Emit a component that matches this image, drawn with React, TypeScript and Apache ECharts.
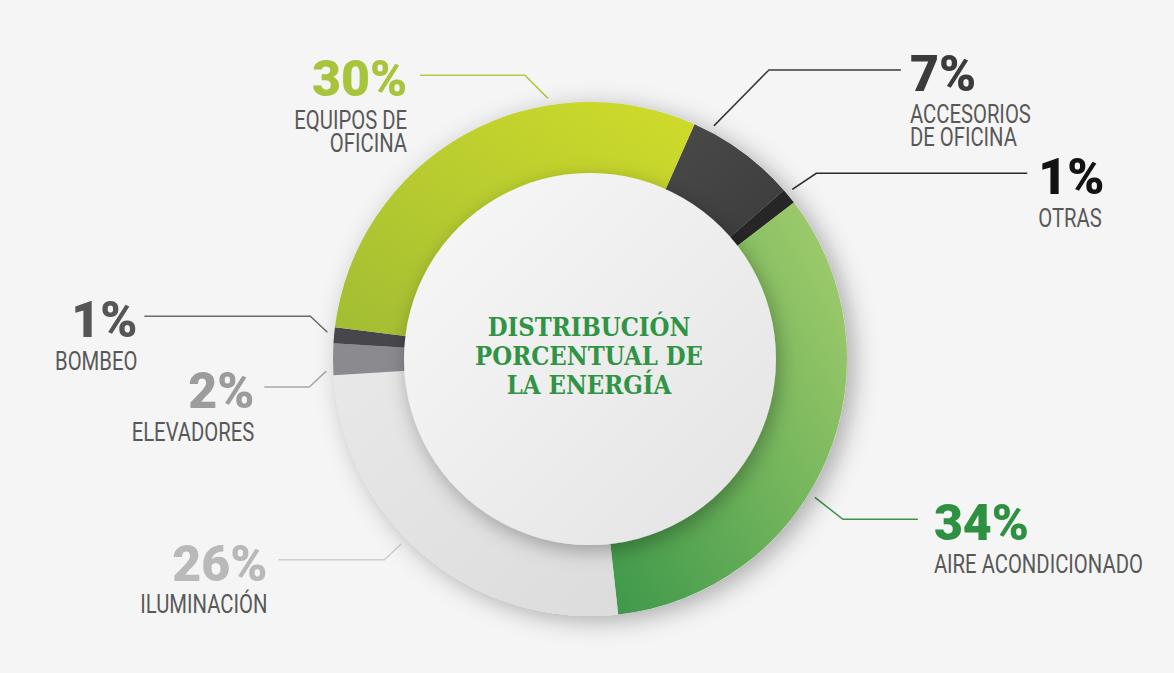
import React, { useEffect, useRef } from "react";
import * as echarts from "echarts";

// ---- data ----
const categories = [
  "ACCESORIOS\nDE OFICINA",
  "OTRAS",
  "AIRE ACONDICIONADO",
  "ILUMINACIÓN",
  "ELEVADORES",
  "BOMBEO",
  "EQUIPOS DE\nOFICINA",
];
const values = [7, 1, 34, 26, 2, 1, 30];
const percentLabels = ["7%", "1%", "34%", "26%", "2%", "1%", "30%"];
const centerTitle = "DISTRIBUCIÓN\nPORCENTUAL DE\nLA ENERGÍA";

// ---- layout / style ----
const CX = 590;
const CY = 359;
const R_IN = 184;
const R_OUT = 257;
const START_ANGLE = 66; // echarts: degrees ccw from 3 o'clock
const ANCHOR_R = 264;

const lin = (x: number, y: number, x2: number, y2: number, c1: string, c2: string) => ({
  type: "linear",
  x,
  y,
  x2,
  y2,
  colorStops: [
    { offset: 0, color: c1 },
    { offset: 1, color: c2 },
  ],
});

const sliceColors: any[] = [
  lin(0, 0, 1, 1, "#4a4a4a", "#3c3c3c"),
  "#262626",
  lin(1, 0, 0, 1, "#a6cf6d", "#3d984a"),
  lin(0, 0, 1, 1, "#e8e8e8", "#dcdcdc"),
  "#8a8a8f",
  "#46464c",
  lin(0, 1, 1, 0, "#a2bd34", "#d0dc2a"),
];
const percentColors = ["#3b3b3b", "#121212", "#2e9141", "#b9b9b9", "#9c9c9c", "#565656", "#a8c43c"];
const lineColors = ["#3a3a3a", "#2a2a2a", "#3a9248", "#cdcdcd", "#a8a8a8", "#6a6a6a", "#b5c94a"];
// side: 1 right, -1 left; frac: position within slice for line anchor
const labelGeom = [
  { side: 1, frac: 0.16, ex: 55, ey: -56, len: 132, gap: 9 },
  { side: 1, frac: 0.3, ex: 24, ey: -16, len: 211, gap: 11 },
  { side: 1, frac: 0.57, ex: 28, ey: 22, len: 75, gap: 16 },
  { side: -1, frac: 0.56, ex: -17, ey: 16, len: 106, gap: 11 },
  { side: -1, frac: 0.14, ex: -17, ey: 16, len: 45, gap: 10 },
  { side: -1, frac: 0.65, ex: -17, ey: -16, len: 166, gap: 7 },
  { side: -1, frac: 0.69, ex: -23, ey: -23, len: 105, gap: 13 },
];

function buildGraphics() {
  const total = values.reduce((a, b) => a + b, 0);
  const startFromTop = 90 - START_ANGLE;
  let cum = 0;
  const els: any[] = [];
  values.forEach((v, i) => {
    const g = labelGeom[i];
    const deg = startFromTop + ((cum + v * g.frac) / total) * 360;
    cum += v;
    const rad = (deg * Math.PI) / 180;
    const ax = CX + ANCHOR_R * Math.sin(rad);
    const ay = CY - ANCHOR_R * Math.cos(rad);
    const bx = ax + g.ex;
    const by = ay + g.ey;
    const endX = bx + g.side * g.len;
    els.push({
      type: "polyline",
      silent: true,
      shape: { points: [[ax, ay], [bx, by], [endX, by]] },
      style: { stroke: lineColors[i], lineWidth: 1.5, fill: null },
    });
    const tx = endX + g.side * g.gap;
    const align = g.side > 0 ? "left" : "right";
    els.push({
      type: "text",
      silent: true,
      x: tx,
      y: by + 4,
      style: {
        text: percentLabels[i],
        fill: percentColors[i],
        fontFamily: "Roboto",
        fontWeight: 900,
        fontSize: 50,
        align,
        verticalAlign: "middle",
      },
    });
    els.push({
      type: "text",
      silent: true,
      x: tx,
      y: by + 33,
      scaleX: 0.78,
      style: {
        text: categories[i],
        fill: "#585858",
        fontFamily: "Roboto",
        fontWeight: 400,
        fontSize: 26,
        lineHeight: 23,
        align,
        verticalAlign: "top",
      },
    });
  });
  els.push({
    type: "text",
    silent: true,
    z: 100,
    x: CX - 1,
    y: CY - 3,
    scaleX: 0.88,
    style: {
      text: centerTitle,
      fill: "#2f9444",
      fontFamily: "DejaVu Serif",
      fontWeight: "bold",
      fontSize: 26,
      lineHeight: 29,
      align: "center",
      verticalAlign: "middle",
    },
  });
  return els;
}

export default function App() {
  const ref = useRef<HTMLDivElement>(null);
  useEffect(() => {
    document.body.style.margin = "0";
    if (!ref.current) return;
    const chart = echarts.init(ref.current, undefined, { renderer: "svg" });
    chart.setOption({
      animation: false,
      backgroundColor: "#f5f5f5",
      series: [
        {
          type: "pie",
          silent: true,
          center: [CX, CY],
          radius: [R_IN, R_OUT],
          label: { show: false },
          labelLine: { show: false },
          itemStyle: {
            color: "#dddddd",
            shadowBlur: 24,
            shadowColor: "rgba(0,0,0,0.3)",
            shadowOffsetX: 7,
            shadowOffsetY: 5,
          },
          data: [{ value: 1 }],
        },
        {
          type: "pie",
          silent: true,
          center: [CX, CY],
          radius: [R_IN, R_OUT],
          startAngle: START_ANGLE,
          clockwise: true,
          label: { show: false },
          labelLine: { show: false },
          data: values.map((v, i) => ({
            value: v,
            name: categories[i].replace("\n", " "),
            itemStyle: { color: sliceColors[i] },
          })),
        },
        {
          type: "pie",
          silent: true,
          center: [CX, CY],
          radius: [0, R_IN + 2],
          label: { show: false },
          labelLine: { show: false },
          itemStyle: {
            color: lin(0, 0, 1, 1, "#f8f8f8", "#e3e3e3"),
            shadowBlur: 20,
            shadowColor: "rgba(0,0,0,0.3)",
            shadowOffsetX: 3,
            shadowOffsetY: 6,
          },
          data: [{ value: 1 }],
        },
      ],
      graphic: buildGraphics(),
    });
    return () => chart.dispose();
  }, []);
  return <div ref={ref} style={{ width: 1174, height: 673 }} />;
}
